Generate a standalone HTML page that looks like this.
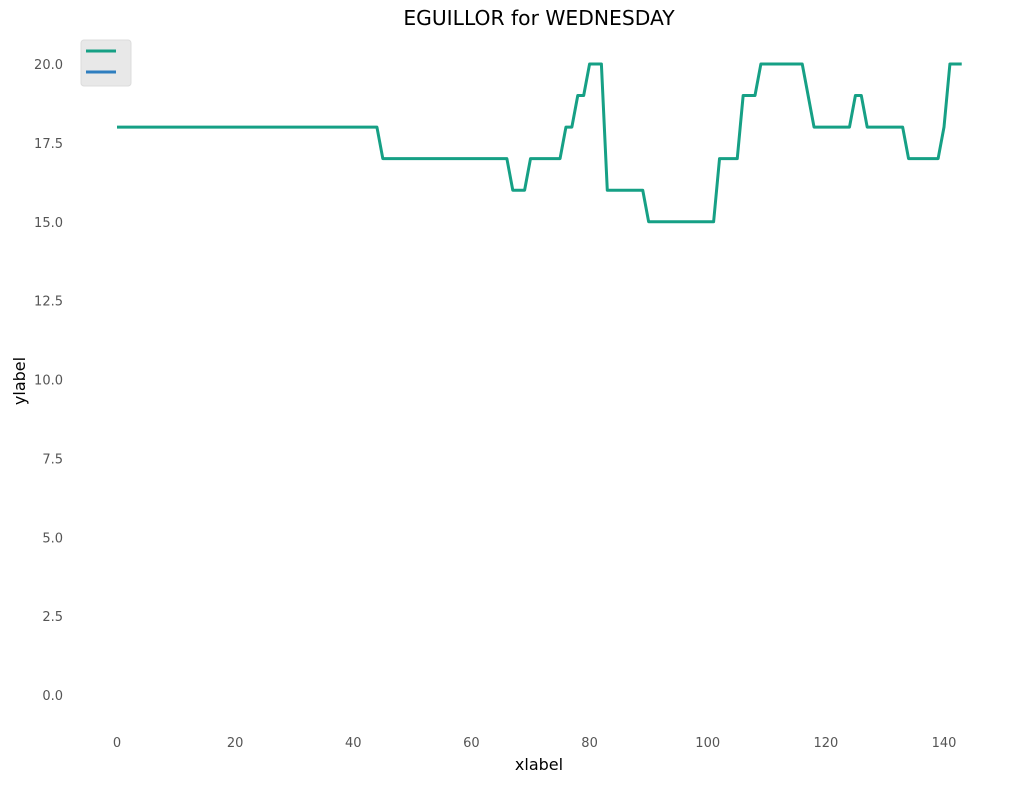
<!DOCTYPE html>
<html><head><meta charset="utf-8"><style>
body{margin:0;background:#fff;}
svg text{font-family:"DejaVu Sans","Liberation Sans",sans-serif;}
</style></head><body>
<svg id="chart" width="1017" height="783">
<text x="539" y="25" text-anchor="middle" font-size="20.3" fill="#000">EGUILLOR for WEDNESDAY</text>
<text x="539" y="770" text-anchor="middle" font-size="16" fill="#000">xlabel</text>
<text x="25" y="381" text-anchor="middle" font-size="16" fill="#000" transform="rotate(-90 25 381)">ylabel</text>
<g id="xticks"></g>
<g id="yticks"></g>
<g id="series"></g>
<g>
<rect x="81" y="40" width="50" height="46" rx="3" fill="#e8e8e8" stroke="#dcdcdc"/>
<line x1="86" y1="51" x2="116" y2="51" stroke="#16a085" stroke-width="3"/>
<line x1="86" y1="72" x2="116" y2="72" stroke="#2e7ebf" stroke-width="3"/>
</g>
</svg>
<script>
const xTicks=[0,20,40,60,80,100,120,140];
const yTicks=[0,2.5,5,7.5,10,12.5,15,17.5,20];
const segments=[[0,44,18],[45,66,17],[67,69,16],[70,75,17],[76,77,18],[78,79,19],[80,82,20],[83,89,16],[90,101,15],[102,105,17],[106,108,19],[109,116,20],[117,117,19],[118,124,18],[125,126,19],[127,133,18],[134,139,17],[140,140,18],[141,143,20]];
const values=[];
segments.forEach(s=>{for(let i=s[0];i<=s[1];i++)values.push(s[2]);});
const xs=x=>117+x*(944-117)/140;
const ys=y=>695-y*(695-64)/20;
const NS="http://www.w3.org/2000/svg";
const gx=document.getElementById('xticks'),gy=document.getElementById('yticks'),gs=document.getElementById('series');
xTicks.forEach(t=>{const e=document.createElementNS(NS,'text');


e.setAttribute('x',xs(t));e.setAttribute('y',747);e.setAttribute('text-anchor','middle');e.setAttribute('font-size','13');e.setAttribute('fill','#555');e.textContent=t;gx.appendChild(e);});
yTicks.forEach(t=>{const e=document.createElementNS(NS,'text');


e.setAttribute('x',63);e.setAttribute('y',ys(t)+5);e.setAttribute('text-anchor','end');e.setAttribute('font-size','13');e.setAttribute('fill','#555');e.textContent=t.toFixed(1);gy.appendChild(e);});
const p=document.createElementNS(NS,'polyline');


p.setAttribute('points',values.map((v,i)=>xs(i)+','+ys(v)).join(' '));
p.setAttribute('fill','none');p.setAttribute('stroke','#16a085');p.setAttribute('stroke-width','3');p.setAttribute('stroke-linejoin','round');
gs.appendChild(p);
</script>
</body></html>
